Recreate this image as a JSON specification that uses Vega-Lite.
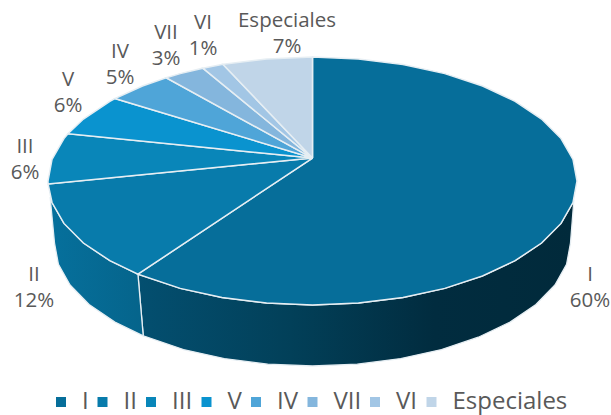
{"$schema":"https://vega.github.io/schema/vega-lite/v6.json","width":611,"height":415,"padding":0,"autosize":"none","background":"white","view":{"stroke":null},
"datasets":{
"wall1":[{"o":0,"x":0.9882,"y":-0.153},{"o":1,"x":0.9848,"y":-0.1736},{"o":2,"x":0.9397,"y":-0.342},{"o":3,"x":0.866,"y":-0.5},{"o":4,"x":0.766,"y":-0.6428},{"o":5,"x":0.6428,"y":-0.766},{"o":6,"x":0.5,"y":-0.866},{"o":7,"x":0.342,"y":-0.9397},{"o":8,"x":0.1736,"y":-0.9848},{"o":9,"x":0,"y":-1},{"o":10,"x":-0.1736,"y":-0.9848},{"o":11,"x":-0.342,"y":-0.9397},{"o":12,"x":-0.5,"y":-0.866},{"o":13,"x":-0.66,"y":-0.7513},{"o":14,"x":-0.6399,"y":-1.2487},{"o":15,"x":-0.4877,"y":-1.3591},{"o":16,"x":-0.3336,"y":-1.4322},{"o":17,"x":-0.1694,"y":-1.4769},{"o":18,"x":0,"y":-1.492},{"o":19,"x":0.1694,"y":-1.4769},{"o":20,"x":0.3336,"y":-1.4322},{"o":21,"x":0.4877,"y":-1.3591},{"o":22,"x":0.627,"y":-1.2599},{"o":23,"x":0.7472,"y":-1.1377},{"o":24,"x":0.8447,"y":-0.996},{"o":25,"x":0.9166,"y":-0.8393},{"o":26,"x":0.9606,"y":-0.6723},{"o":27,"x":0.9754,"y":-0.5},{"o":28,"x":0.9882,"y":-0.153}],
"wall2":[{"o":0,"x":-0.66,"y":-0.7513},{"o":1,"x":-0.766,"y":-0.6428},{"o":2,"x":-0.866,"y":-0.5},{"o":3,"x":-0.9397,"y":-0.342},{"o":4,"x":-0.9848,"y":-0.1736},{"o":5,"x":-0.992,"y":-0.129},{"o":6,"x":-0.9754,"y":-0.5},{"o":7,"x":-0.9606,"y":-0.6723},{"o":8,"x":-0.9166,"y":-0.8393},{"o":9,"x":-0.8447,"y":-0.996},{"o":10,"x":-0.7472,"y":-1.1377},{"o":11,"x":-0.6399,"y":-1.2487},{"o":12,"x":-0.66,"y":-0.7513}],
"top":[
{"slice":"I","o":0,"x":0,"y":0.185},{"slice":"I","o":1,"x":0,"y":1},{"slice":"I","o":2,"x":0.1736,"y":0.9848},{"slice":"I","o":3,"x":0.342,"y":0.9397},{"slice":"I","o":4,"x":0.5,"y":0.866},{"slice":"I","o":5,"x":0.6428,"y":0.766},{"slice":"I","o":6,"x":0.766,"y":0.6428},{"slice":"I","o":7,"x":0.866,"y":0.5},{"slice":"I","o":8,"x":0.9397,"y":0.342},{"slice":"I","o":9,"x":0.9848,"y":0.1736},{"slice":"I","o":10,"x":1,"y":0},{"slice":"I","o":11,"x":0.9848,"y":-0.1736},{"slice":"I","o":12,"x":0.9397,"y":-0.342},{"slice":"I","o":13,"x":0.866,"y":-0.5},{"slice":"I","o":14,"x":0.766,"y":-0.6428},{"slice":"I","o":15,"x":0.6428,"y":-0.766},{"slice":"I","o":16,"x":0.5,"y":-0.866},{"slice":"I","o":17,"x":0.342,"y":-0.9397},{"slice":"I","o":18,"x":0.1736,"y":-0.9848},{"slice":"I","o":19,"x":0,"y":-1},{"slice":"I","o":20,"x":-0.1736,"y":-0.9848},{"slice":"I","o":21,"x":-0.342,"y":-0.9397},{"slice":"I","o":22,"x":-0.5,"y":-0.866},{"slice":"I","o":23,"x":-0.66,"y":-0.7513},{"slice":"I","o":24,"x":0,"y":0.185},
{"slice":"II","o":0,"x":0,"y":0.185},{"slice":"II","o":1,"x":-0.66,"y":-0.7513},{"slice":"II","o":2,"x":-0.766,"y":-0.6428},{"slice":"II","o":3,"x":-0.866,"y":-0.5},{"slice":"II","o":4,"x":-0.9397,"y":-0.342},{"slice":"II","o":5,"x":-0.9848,"y":-0.1736},{"slice":"II","o":6,"x":-0.9997,"y":-0.0244},{"slice":"II","o":7,"x":0,"y":0.185},
{"slice":"III","o":0,"x":0,"y":0.185},{"slice":"III","o":1,"x":-0.9997,"y":-0.0244},{"slice":"III","o":2,"x":-1,"y":0},{"slice":"III","o":3,"x":-0.9848,"y":0.1736},{"slice":"III","o":4,"x":-0.9397,"y":0.342},{"slice":"III","o":5,"x":-0.9245,"y":0.381},{"slice":"III","o":6,"x":0,"y":0.185},
{"slice":"V","o":0,"x":0,"y":0.185},{"slice":"V","o":1,"x":-0.9245,"y":0.381},{"slice":"V","o":2,"x":-0.866,"y":0.5},{"slice":"V","o":3,"x":-0.766,"y":0.6428},{"slice":"V","o":4,"x":-0.747,"y":0.665},{"slice":"V","o":5,"x":0,"y":0.185},
{"slice":"IV","o":0,"x":0,"y":0.185},{"slice":"IV","o":1,"x":-0.747,"y":0.665},{"slice":"IV","o":2,"x":-0.6428,"y":0.766},{"slice":"IV","o":3,"x":-0.5534,"y":0.8329},{"slice":"IV","o":4,"x":0,"y":0.185},
{"slice":"VII","o":0,"x":0,"y":0.185},{"slice":"VII","o":1,"x":-0.5534,"y":0.8329},{"slice":"VII","o":2,"x":-0.5,"y":0.866},{"slice":"VII","o":3,"x":-0.4147,"y":0.91},{"slice":"VII","o":4,"x":0,"y":0.185},
{"slice":"VI","o":0,"x":0,"y":0.185},{"slice":"VI","o":1,"x":-0.4147,"y":0.91},{"slice":"VI","o":2,"x":-0.3387,"y":0.9409},{"slice":"VI","o":3,"x":0,"y":0.185},
{"slice":"Especiales","o":0,"x":0,"y":0.185},{"slice":"Especiales","o":1,"x":-0.3387,"y":0.9409},{"slice":"Especiales","o":2,"x":-0.1736,"y":0.9848},{"slice":"Especiales","o":3,"x":0,"y":1},{"slice":"Especiales","o":4,"x":0,"y":0.185}],
"labels":[{"label":"I\n60%","x":1.0491,"y":-0.7581},{"label":"II\n12%","x":-1.053,"y":-0.7581},{"label":"III\n6%","x":-1.087,"y":0.2782},{"label":"V\n6%","x":-0.9244,"y":0.8185},{"label":"IV\n5%","x":-0.7278,"y":1.0443},{"label":"VII\n3%","x":-0.5539,"y":1.1935},{"label":"VI\n1%","x":-0.414,"y":1.2742},{"label":"Especiales\n7%","x":-0.0964,"y":1.2943}]},
"encoding":{"x":{"field":"x","type":"quantitative","axis":null,"scale":{"domain":[-1.18147,1.12854],"nice":false,"zero":false}},"y":{"field":"y","type":"quantitative","axis":null,"scale":{"domain":[-1.8871,1.4597],"nice":false,"zero":false}}},
"layer":[
{"data":{"name":"wall1"},"mark":{"type":"line","filled":true,"stroke":"#e6eef3","strokeWidth":1.3,"fill":{"gradient":"linear","x1":0,"x2":1,"y1":0,"y2":0,"stops":[{"offset":0,"color":"#034f70"},{"offset":0.35,"color":"#024059"},{"offset":0.68,"color":"#012c3f"},{"offset":1,"color":"#012a3b"}]}},"encoding":{"order":{"field":"o","type":"quantitative"}}},
{"data":{"name":"wall2"},"mark":{"type":"line","filled":true,"stroke":"#e6eef3","strokeWidth":1.3,"fill":{"gradient":"linear","x1":0,"x2":1,"y1":0,"y2":0,"stops":[{"offset":0,"color":"#06709c"},{"offset":1,"color":"#05648b"}]}},"encoding":{"order":{"field":"o","type":"quantitative"}}},
{"data":{"name":"top"},"mark":{"type":"line","filled":true,"stroke":"#e6eef3","strokeWidth":1.5},"encoding":{"order":{"field":"o","type":"quantitative"},"color":{"field":"slice","type":"nominal","scale":{"domain":["I","II","III","V","IV","VII","VI","Especiales"],"range":["#066e9a","#087bab","#0986b9","#0a93cf","#4fa5d8","#84b6dd","#a2c6e5","#c0d5e8"]},"legend":{"title":null,"orient":"none","legendX":49,"legendY":390,"direction":"horizontal","symbolType":"square","symbolSize":100,"symbolStrokeWidth":0,"labelFontSize":24,"labelFont":"Open Sans","labelColor":"#595959","labelOffset":9,"columnPadding":1.5}}}},
{"data":{"name":"labels"},"mark":{"type":"text","font":"Open Sans","fontSize":20.5,"color":"#595959","lineBreak":"\n","lineHeight":26,"align":"center","baseline":"middle"},"encoding":{"text":{"field":"label","type":"nominal"}}}
]}
